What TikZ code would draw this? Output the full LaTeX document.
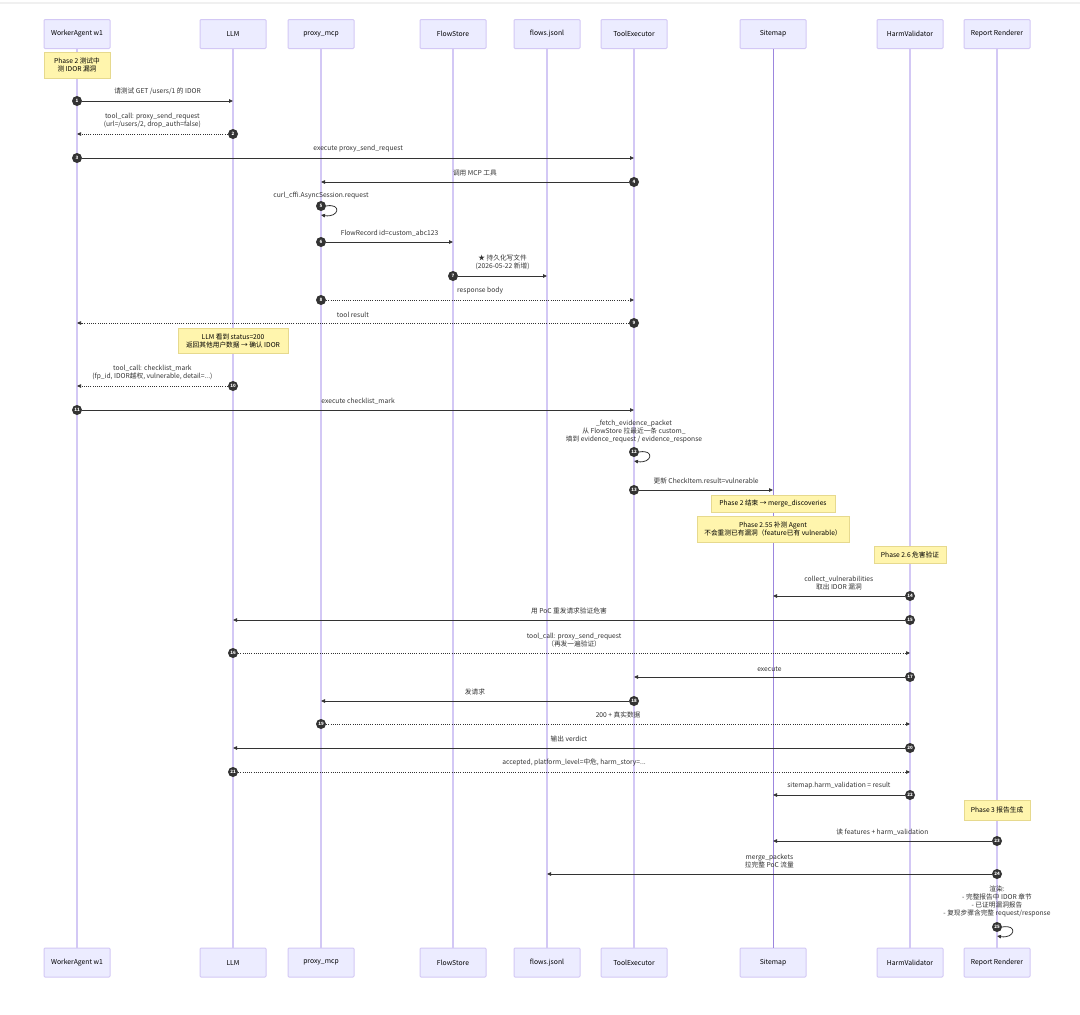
\documentclass[tikz,border=0pt]{standalone}
\usepackage{fontspec}
\setmainfont{Noto Sans CJK SC}
\usepackage{tikz}
\usetikzlibrary{positioning,arrows.meta}

\definecolor{actorbg}{HTML}{ECECFF}
\definecolor{actorln}{HTML}{D3C8F5}
\definecolor{lifeln}{HTML}{D3C8F5}
\definecolor{smln}{HTML}{9C86DE}
\definecolor{ink}{HTML}{333333}
\definecolor{notebg}{HTML}{FFF5AD}
\definecolor{noteln}{HTML}{E6D98E}
\definecolor{topbar}{HTML}{F0F0F0}

\begin{document}
\begin{tikzpicture}[x=1pt, y=-1pt,
    actor/.style={draw=actorln, fill=actorbg, line width=1, rounded corners=1, minimum width=66, minimum height=29, inner sep=0, font=\fontsize{6.8}{8}\selectfont},
    life/.style={draw=lifeln, line width=1.3},
    smlife/.style={draw=smln, line width=0.8},
    msg/.style={draw=ink, line width=0.8, -{Triangle[length=4pt,width=3.5pt]}},
    reply/.style={msg, line width=0.7, dash pattern=on 1pt off 1.2pt},
    num/.style={circle, fill=ink, text=white, inner sep=0, minimum size=10, font=\fontsize{4.5}{4.5}\selectfont\bfseries},
    lbl/.style={align=center, inner sep=0.5, text=ink, font=\fontsize{6.7}{8}\selectfont},
    mlbl/.style={lbl, above=5pt},
    note/.style={draw=noteln, fill=notebg, line width=0.8, align=center, inner sep=0, font=\fontsize{6.7}{8}\selectfont}
]
    \fill[white] (0,0) rectangle (1080,1015);
    \useasboundingbox (0,0) rectangle (1080,1015);
    \draw[topbar, line width=2] (0,2.5) -- (1080,2.5);

    % participants and lifelines
    \foreach \id/\x/\name/\ls in {wa/77/WorkerAgent w1/life, llm/233/LLM/life, pm/321/proxy\_mcp/life, fs/453/FlowStore/life, fj/547/flows.jsonl/life, te/634/ToolExecutor/life, sm/773/Sitemap/smlife, hv/910/HarmValidator/life, rr/997/Report Renderer/life}{
        \node[actor] (\id) at (\x,34) {\name};
        \node[actor] (\id-b) at (\x,962.5) {\name};
        \draw[\ls] (\id) -- (\id-b);
    }

    % Phase 2: worker tests IDOR
    \node[note, minimum width=66, minimum height=26] (note1) at (wa |- 0,65) {Phase 2 测试中\\测 IDOR 漏洞};

    \node[num] (n1) at (wa |- 0,101) {1};
    \draw[msg] (n1) -- node[mlbl] (l1) {请测试 GET /users/1 的 IDOR} (llm |- n1);
    \node[num] (n2) at (llm |- 0,134) {2};
    \draw[reply] (n2) -- node[mlbl] (l2) {tool\_call: proxy\_send\_request\\(url=/users/2, drop\_auth=false)} (wa |- n2);
    \node[num] (n3) at (wa |- 0,158) {3};
    \draw[msg] (n3) -- node[mlbl] (l3) {execute proxy\_send\_request} (te |- n3);
    \node[num] (n4) at (te |- 0,182) {4};
    \draw[msg] (n4) -- node[mlbl] (l4) {调用 MCP 工具} (pm |- n4);
    \node[num] (n5) at (pm |- 0,206) {5};
    \draw[msg] (n5.east) .. controls +(16,-3) and +(18,3) .. (pm |- 0,215);
    \node[lbl, above=1pt of n5] (l5) {curl\_cffi.AsyncSession.request};
    \node[num] (n6) at (pm |- 0,242) {6};
    \draw[msg] (n6) -- node[mlbl] (l6) {FlowRecord id=custom\_abc123} (fs |- n6);
    \node[num] (n7) at (fs |- 0,276) {7};
    \draw[msg] (n7) -- node[mlbl] (l7) {★ 持久化写文件\\(2026-05-22 新增)} (fj |- n7);
    \node[num] (n8) at (pm |- 0,300) {8};
    \draw[reply] (n8) -- node[mlbl] (l8) {response body} (te |- n8);
    \node[num] (n9) at (te |- 0,323) {9};
    \draw[reply] (n9) -- node[mlbl] (l9) {tool result} (wa |- n9);

    \node[note, minimum width=110, minimum height=25] (note2) at (llm |- 0,340.5) {LLM 看到 status=200\\返回其他用户数据 → 确认 IDOR};

    \node[num] (n10) at (llm |- 0,386) {10};
    \draw[reply] (n10) -- node[mlbl] (l10) {tool\_call: checklist\_mark\\(fp\_id, IDOR越权, vulnerable, detail=...)} (wa |- n10);
    \node[num] (n11) at (wa |- 0,410) {11};
    \draw[msg] (n11) -- node[mlbl] (l11) {execute checklist\_mark} (te |- n11);
    \node[num] (n12) at (te |- 0,452) {12};
    \draw[msg] (n12.east) .. controls +(16,-3) and +(18,3) .. (te |- 0,461);
    \node[lbl, above=3pt of n12] (l12) {\_fetch\_evidence\_packet\\从 FlowStore 拉最近一条 custom\_\\填到 evidence\_request / evidence\_response};
    \node[num] (n13) at (te |- 0,490) {13};
    \draw[msg] (n13) -- node[mlbl] (l13) {更新 CheckItem.result=vulnerable} (sm |- n13);

    % Phase 2.55 / 2.6
    \node[note, minimum width=124, minimum height=17] (note3) at (sm |- 0,503.5) {Phase 2 结束 → merge\_discoveries};
    \node[note, minimum width=152, minimum height=26] (note4) at (sm |- 0,529) {Phase 2.55 补测 Agent\\不会重测已有漏洞（feature已有 vulnerable）};
    \node[note, minimum width=72, minimum height=17] (note5) at (hv |- 0,554.5) {Phase 2.6 危害验证};

    \node[num] (n14) at (hv |- 0,596) {14};
    \draw[msg] (n14) -- node[mlbl] (l14) {collect\_vulnerabilities\\取出 IDOR 漏洞} (sm |- n14);
    \node[num] (n15) at (hv |- 0,620) {15};
    \draw[msg] (n15) -- node[mlbl] (l15) {用 PoC 重发请求验证危害} (llm |- n15);
    \node[num] (n16) at (llm |- 0,653) {16};
    \draw[reply] (n16) -- node[mlbl] (l16) {tool\_call: proxy\_send\_request\\（再发一遍验证）} (hv |- n16);
    \node[num] (n17) at (hv |- 0,677) {17};
    \draw[msg] (n17) -- node[mlbl] (l17) {execute} (te |- n17);
    \node[num] (n18) at (te |- 0,701) {18};
    \draw[msg] (n18) -- node[mlbl] (l18) {发请求} (pm |- n18);
    \node[num] (n19) at (pm |- 0,724) {19};
    \draw[reply] (n19) -- node[mlbl] (l19) {200 + 真实数据} (hv |- n19);
    \node[num] (n20) at (hv |- 0,748) {20};
    \draw[msg] (n20) -- node[mlbl] (l20) {输出 verdict} (llm |- n20);
    \node[num] (n21) at (llm |- 0,772) {21};
    \draw[reply] (n21) -- node[mlbl] (l21) {accepted, platform\_level=中危, harm\_story=...} (hv |- n21);
    \node[num] (n22) at (hv |- 0,795) {22};
    \draw[msg] (n22) -- node[mlbl] (l22) {sitemap.harm\_validation = result} (sm |- n22);

    % Phase 3 report
    \node[note, minimum width=66, minimum height=20] (note6) at (rr |- 0,810) {Phase 3 报告生成};

    \node[num] (n23) at (rr |- 0,841) {23};
    \draw[msg] (n23) -- node[mlbl] (l23) {读 features + harm\_validation} (sm |- n23);
    \node[num] (n24) at (rr |- 0,874) {24};
    \draw[msg] (n24) -- node[mlbl] (l24) {merge\_packets\\拉完整 PoC 流量} (fj |- n24);
    \node[num] (n25) at (rr |- 0,927) {25};
    \draw[msg] (n25.east) .. controls +(16,-3) and +(18,3) .. (rr |- 0,936);
    \node[lbl, above=4pt of n25] (l25) {渲染:\\- 完整报告中 IDOR 章节\\- 已证明漏洞报告\\- 复现步骤含完整 request/response};
\end{tikzpicture}
\end{document}
